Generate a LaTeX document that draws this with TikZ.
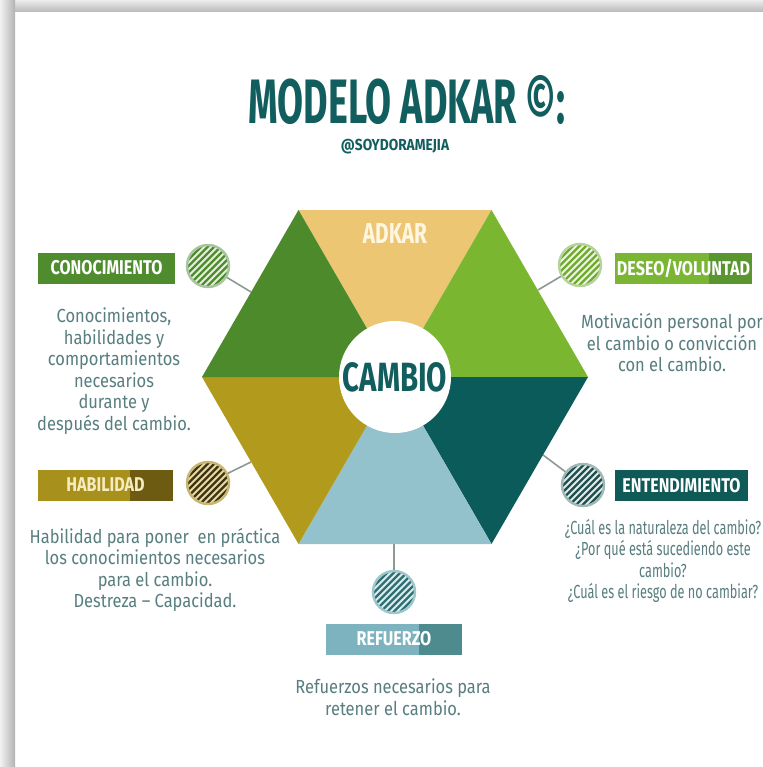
\documentclass[tikz,border=0pt]{standalone}
\usepackage{fontspec}
\setmainfont{Fira Sans}
\newfontfamily\titlefont[FakeStretch=0.6]{Fira Sans}
\newfontfamily\handlefont[FakeStretch=0.86]{Fira Sans}
\newfontfamily\tagfont[FakeStretch=0.81]{Fira Sans}
\newfontfamily\hexfont[FakeStretch=0.72]{Fira Sans}
\newfontfamily\bodyfont[FakeStretch=0.87]{Fira Sans}
\newfontfamily\bodynarrow[FakeStretch=0.67]{Fira Sans}

\definecolor{cTan}{HTML}{ECC673}
\definecolor{cDkGreen}{HTML}{4C8A2B}
\definecolor{cLtGreen}{HTML}{7AB62F}
\definecolor{cTeal}{HTML}{0B5B5A}
\definecolor{cLtBlue}{HTML}{93C1CC}
\definecolor{cOlive}{HTML}{B29A1D}
\definecolor{cBody}{HTML}{587E80}
\definecolor{cTitle}{HTML}{125E5E}
\definecolor{cConn}{HTML}{8C9A92}
\definecolor{cAdkar}{HTML}{FFF6E0}
% label boxes
\definecolor{bCon}{HTML}{4E8C2E}
\definecolor{bDes}{HTML}{7AB534}
\definecolor{bDesDk}{HTML}{5A9630}
\definecolor{bHab}{HTML}{A8901C}
\definecolor{bHabDk}{HTML}{6E5B12}
\definecolor{bHabTx}{HTML}{F5EBC0}
\definecolor{bEnt}{HTML}{0F5A57}
\definecolor{bRef}{HTML}{7DB3BE}
\definecolor{bRefDk}{HTML}{4D8B8F}
% hatched discs
\definecolor{sCon}{HTML}{4E8C2E}\definecolor{gCon}{HTML}{E5EEDC}\definecolor{rCon}{HTML}{A9C4A0}
\definecolor{sDes}{HTML}{6EAB2E}\definecolor{gDes}{HTML}{EEF5E2}\definecolor{rDes}{HTML}{B6D39A}
\definecolor{sHab}{HTML}{3E3612}\definecolor{gHab}{HTML}{E8D9A6}\definecolor{rHab}{HTML}{C9B673}
\definecolor{sEnt}{HTML}{1D4F4E}\definecolor{gEnt}{HTML}{E1EBEA}\definecolor{rEnt}{HTML}{9FB7B5}
\definecolor{sRef}{HTML}{2F6E71}\definecolor{gRef}{HTML}{D9ECEF}\definecolor{rRef}{HTML}{9EC6CB}

\tikzset{
  hatch/.style n args={3}{circle, minimum size=42bp, inner sep=0pt,
    fill=#2, draw=#3, line width=2.4bp,
    path picture={\foreach \k in {-7,...,7}{
      \draw[#1, line width=2.3bp] ([xshift=\k*6.5bp]path picture bounding box.center)
        +(-30bp,-30bp) -- +(30bp,30bp);}}},
  tagbox/.style n args={3}{rectangle, inner sep=0pt, minimum height=31bp,
    fill=#1, text=#3, font=\tagfont\bfseries\fontsize{20}{20}\selectfont,
    path picture={\fill[#2] ([xshift=-43bp]path picture bounding box.north east)
      rectangle (path picture bounding box.south east);}},
  desc/.style={align=center, text=cBody, inner sep=0pt,
    font=\bodyfont\fontsize{19}{21.6}\selectfont},
  conn/.style={draw=cConn, line width=1.6bp}
}

\begin{document}
\begin{tikzpicture}[x=1bp,y=-1bp]
\useasboundingbox (0,0) rectangle (763,767);
% page and its shadowed edges
\fill[white] (0,0) rectangle (763,767);
\shade[top color=gray!15, bottom color=gray!55] (0,0) rectangle (763,12);
\shade[left color=gray!10, right color=gray!60] (0,0) rectangle (15,767);

% title
\node[font=\titlefont\bfseries\fontsize{63}{63}\selectfont, text=cTitle,
      inner sep=0pt, text depth=0pt] (title) at (407,99) {MODELO ADKAR ©:};
\node[font=\handlefont\bfseries\fontsize{16}{16}\selectfont, text=cTitle,
      inner sep=0pt] (handle) at (395,147) {@SOYDORAMEJIA};

% hexagon corners
\coordinate (O)  at (395,377);
\coordinate (L)  at (202,377);
\coordinate (TL) at (298.5,210);
\coordinate (TR) at (491.5,210);
\coordinate (R)  at (588,377);
\coordinate (BR) at (491.5,544);
\coordinate (BL) at (298.5,544);

% hatched discs and their leads to the hexagon
\node[hatch={sCon}{gCon}{rCon}] (dCon) at (208,266) {};
\node[hatch={sDes}{gDes}{rDes}] (dDes) at (580,265) {};
\node[hatch={sHab}{gHab}{rHab}] (dHab) at (208,483) {};
\node[hatch={sEnt}{gEnt}{rEnt}] (dEnt) at (583,485) {};
\node[hatch={sRef}{gRef}{rRef}] (dRef) at (394,592) {};
\coordinate (eCon) at (251,292);
\coordinate (eDes) at (538,290);
\coordinate (eHab) at (251,462);
\coordinate (eEnt) at (543,455);
\coordinate (eRef) at (394,544);
\draw[conn] (dCon) -- (eCon);
\draw[conn] (dDes) -- (eDes);
\draw[conn] (dHab) -- (eHab);
\draw[conn] (dEnt) -- (eEnt);
\draw[conn] (dRef) -- (eRef);

% six triangles of the hexagon
\fill[cTan]     (O) -- (TL) -- (TR) -- cycle;
\fill[cLtGreen] (O) -- (TR) -- (R)  -- cycle;
\fill[cTeal]    (O) -- (R)  -- (BR) -- cycle;
\fill[cLtBlue]  (O) -- (BR) -- (BL) -- cycle;
\fill[cOlive]   (O) -- (BL) -- (L)  -- cycle;
\fill[cDkGreen] (O) -- (L)  -- (TL) -- cycle;

\node[font=\hexfont\bfseries\fontsize{29}{29}\selectfont, text=cAdkar] (adkar) at (395,233) {ADKAR};
\node[circle, fill=white, minimum size=112bp, inner sep=0pt,
      font=\hexfont\bfseries\fontsize{41}{41}\selectfont, text=cTitle] (core) at (O) {CAMBIO};

% labels
\node[tagbox={bCon}{bCon}{white}, minimum width=137bp] (tCon) at (106.5,268) {CONOCIMIENTO};
\node[tagbox={bDes}{bDesDk}{white}, minimum width=137bp] (tDes) at (683.5,268) {DESEO/VOLUNTAD};
\node[tagbox={bHab}{bHabDk}{bHabTx}, minimum width=135bp] (tHab) at (105.5,485) {HABILIDAD};
\node[tagbox={bEnt}{bEnt}{white}, minimum width=133bp] (tEnt) at (681.5,485.5) {ENTENDIMIENTO};
\node[tagbox={bRef}{bRefDk}{white}, minimum width=136bp] (tRef) at (394,639) {REFUERZO};

% descriptions
\node[desc] (xCon) at (114,371) {Conocimientos,\\habilidades y\\comportamientos\\necesarios\\durante y\\después del cambio.};
\node[desc] (xDes) at (672,343) {Motivación personal por\\el cambio o convicción\\con el cambio.};
\node[desc] (xHab) at (155,570) {Habilidad para poner\ \ en práctica\\los conocimientos necesarios\\para el cambio.\\Destreza – Capacidad.};
\node[desc, font=\bodynarrow\fontsize{19}{21.6}\selectfont] (xEnt) at (663,561) {¿Cuál es la naturaleza del cambio?\\¿Por qué está sucediendo este\\cambio?\\¿Cuál es el riesgo de no cambiar?};
\node[desc] (xRef) at (393,697) {Refuerzos necesarios para\\retener el cambio.};
\end{tikzpicture}
\end{document}
